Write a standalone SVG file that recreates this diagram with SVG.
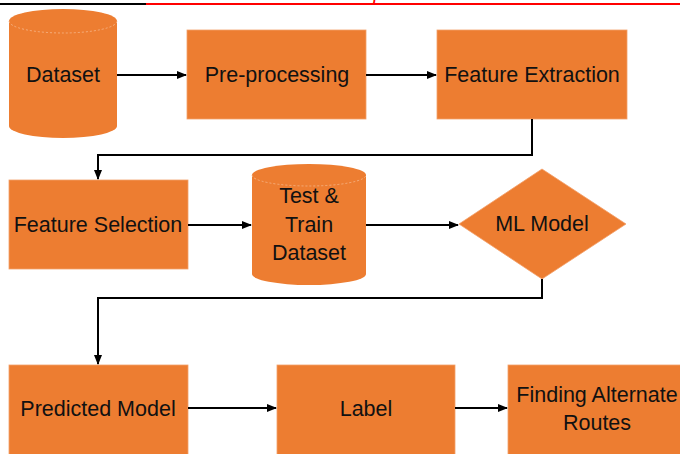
<svg xmlns="http://www.w3.org/2000/svg" width="680" height="454" viewBox="0 0 680 454">
<defs>
<marker id="ah" markerWidth="10" markerHeight="10" refX="9" refY="5" orient="auto" markerUnits="userSpaceOnUse">
<path d="M0,1 L10,5 L0,9 Z" fill="#000"/>
</marker>
<style>
.box{fill:#ED7D31;stroke:#F3A06A;stroke-width:0.8}
.cyl{fill:#ED7D31}
.rim{fill:none;stroke:#F6B98E;stroke-width:0.8;stroke-dasharray:2 2}
.t{font-family:"Liberation Sans",Arial,sans-serif;font-size:21.5px;fill:#111;text-anchor:middle}
.c{fill:none;stroke:#000;stroke-width:2}
</style>
</defs>
<rect width="680" height="454" fill="#fff"/>
<text x="150" y="0" font-family="Liberation Serif,serif" font-style="italic" font-size="22" fill="#f00" textLength="530">International Journal of Innovative Research in Science</text>
<line x1="0" y1="4" x2="146" y2="4" stroke="#000" stroke-width="2"/>
<line x1="146" y1="4" x2="680" y2="4" stroke="#f00" stroke-width="2"/>

<g id="dataset">
<path class="cyl" d="M9,21 A54,12 0 0 1 117,21 L117,126 A54,12 0 0 1 9,126 Z"/>
<path class="rim" d="M9,21 A54,12 0 0 0 117,21"/>
<text class="t" x="63" y="82">Dataset</text>
</g>
<g id="preprocessing">
<rect class="box" x="187" y="30" width="179" height="89"/>
<text class="t" x="277" y="82">Pre-processing</text>
</g>
<g id="featureextraction">
<rect class="box" x="437" y="30" width="190" height="89"/>
<text class="t" x="532" y="82">Feature Extraction</text>
</g>
<g id="featureselection">
<rect class="box" x="9" y="180" width="179" height="89"/>
<text class="t" x="98" y="232">Feature Selection</text>
</g>
<g id="testtrain">
<path class="cyl" d="M252,175 A57,11 0 0 1 366,175 L366,274 A57,11 0 0 1 252,274 Z"/>
<path class="rim" d="M252,175 A57,11 0 0 0 366,175"/>
<text class="t" x="309" y="203">Test &amp;</text>
<text class="t" x="309" y="232">Train</text>
<text class="t" x="309" y="260">Dataset</text>
</g>
<g id="mlmodel">
<polygon class="box" points="542,169 626,224 542,279 459,224"/>
<text class="t" x="542" y="231">ML Model</text>
</g>
<g id="predictedmodel">
<rect class="box" x="9" y="365" width="179" height="95"/>
<text class="t" x="98" y="416">Predicted Model</text>
</g>
<g id="label">
<rect class="box" x="277" y="365" width="178" height="95"/>
<text class="t" x="366" y="416">Label</text>
</g>
<g id="findingroutes">
<rect class="box" x="508" y="365" width="180" height="95"/>
<text class="t" x="597" y="402">Finding Alternate</text>
<text class="t" x="597" y="430">Routes</text>
</g>

<g id="connectors">
<line class="c" x1="117" y1="75" x2="186" y2="75" marker-end="url(#ah)"/>
<line class="c" x1="366" y1="75" x2="436" y2="75" marker-end="url(#ah)"/>
<polyline class="c" points="532,119 532,155 98,155 98,179" marker-end="url(#ah)"/>
<line class="c" x1="188" y1="225" x2="251" y2="225" marker-end="url(#ah)"/>
<line class="c" x1="366" y1="225" x2="458" y2="225" marker-end="url(#ah)"/>
<polyline class="c" points="542,279 542,298 98,298 98,364" marker-end="url(#ah)"/>
<line class="c" x1="188" y1="408" x2="276" y2="408" marker-end="url(#ah)"/>
<line class="c" x1="455" y1="408" x2="507" y2="408" marker-end="url(#ah)"/>
</g>
</svg>
